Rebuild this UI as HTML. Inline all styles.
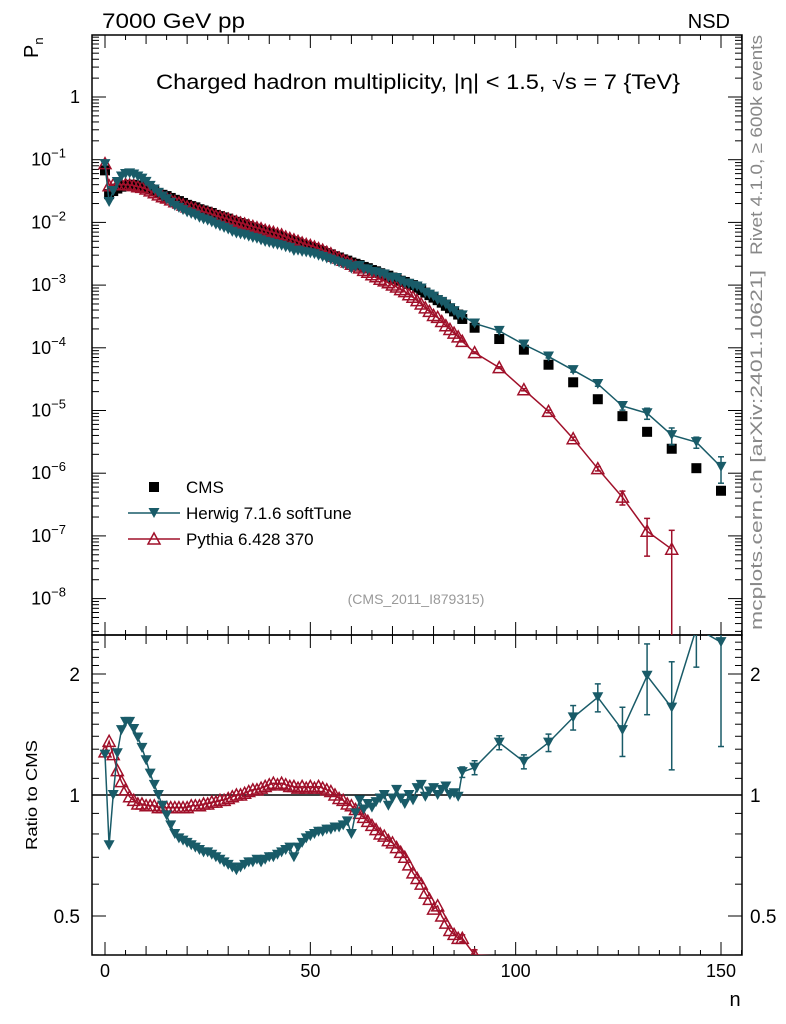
<!DOCTYPE html>
<html><head><meta charset="utf-8">
<style>
html,body{margin:0;padding:0;background:#fff;overflow:hidden;}
svg{display:block;font-family:"Liberation Sans",sans-serif;}
</style></head>
<body>
<svg id="chart" width="786" height="1024" viewBox="0 0 786 1024" xmlns="http://www.w3.org/2000/svg">
<defs>
<clipPath id="clipMain"><rect x="92" y="35" width="650" height="600"/></clipPath>
<clipPath id="clipRatio"><rect x="92" y="635" width="650" height="320"/></clipPath>
</defs>
<text x="102" y="28" font-size="21" textLength="143" lengthAdjust="spacingAndGlyphs">7000 GeV pp</text>
<text x="730" y="28" font-size="20" text-anchor="end">NSD</text>
<text x="156" y="89" font-size="21" textLength="524" lengthAdjust="spacingAndGlyphs">Charged hadron multiplicity, |η| &lt; 1.5, √s = 7 {TeV}</text>
<text transform="translate(38,58) rotate(-90)" font-size="20">P<tspan font-size="13" dy="5">n</tspan></text>
<text transform="translate(37,850) rotate(-90)" font-size="16" textLength="110" lengthAdjust="spacingAndGlyphs">Ratio to CMS</text>
<text x="735" y="1006" font-size="20" text-anchor="middle">n</text>
<text transform="translate(762,255) rotate(-90)" font-size="17" fill="#888" textLength="220" lengthAdjust="spacingAndGlyphs">Rivet 4.1.0, ≥ 600k events</text>
<text transform="translate(762,630) rotate(-90)" font-size="17" fill="#888" textLength="360" lengthAdjust="spacingAndGlyphs">mcplots.cern.ch [arXiv:2401.10621]</text>
<text x="416" y="604" font-size="14" fill="#999" text-anchor="middle">(CMS_2011_I879315)</text>
<g id="axes"></g>
<g id="mainMarks" clip-path="url(#clipMain)"></g>
<g id="ratioMarks" clip-path="url(#clipRatio)"></g>
<g id="legend"></g>
</svg>
<script>
// ---- data ----
const nValues = [0,1,2,3,4,5,6,7,8,9,10,11,12,13,14,15,16,17,18,19,20,21,22,23,24,25,26,27,28,29,30,31,32,33,34,35,36,37,38,39,40,41,42,43,44,45,46,47,48,49,50,51,52,53,54,55,56,57,58,59,60,61,62,63,64,65,66,67,68,69,70,71,72,73,74,75,76,77,78,79,80,81,82,83,84,85,86,87,90,96,102,108,114,120,126,132,138,144,150];
const cmsLog10 = [-1.17,-1.55,-1.50,-1.46,-1.43,-1.41,-1.40,-1.40,-1.41,-1.42,-1.44,-1.47,-1.50,-1.53,-1.56,-1.58,-1.61,-1.64,-1.66,-1.69,-1.72,-1.74,-1.76,-1.79,-1.81,-1.83,-1.85,-1.88,-1.90,-1.92,-1.94,-1.97,-1.99,-2.01,-2.03,-2.06,-2.08,-2.10,-2.12,-2.15,-2.17,-2.19,-2.21,-2.23,-2.26,-2.28,-2.30,-2.32,-2.35,-2.37,-2.39,-2.41,-2.44,-2.46,-2.49,-2.51,-2.54,-2.56,-2.59,-2.61,-2.64,-2.66,-2.68,-2.71,-2.73,-2.76,-2.78,-2.81,-2.83,-2.85,-2.88,-2.90,-2.93,-2.95,-2.98,-3.00,-3.04,-3.08,-3.12,-3.16,-3.20,-3.24,-3.28,-3.33,-3.37,-3.42,-3.47,-3.54,-3.68,-3.86,-4.03,-4.27,-4.55,-4.82,-5.09,-5.34,-5.61,-5.92,-6.28];
const herwigRatio = [1.26,0.75,1.0,1.27,1.45,1.52,1.52,1.46,1.39,1.31,1.22,1.13,1.06,1.0,0.94,0.89,0.84,0.80,0.78,0.77,0.76,0.75,0.74,0.73,0.72,0.72,0.71,0.70,0.69,0.68,0.67,0.66,0.65,0.66,0.67,0.68,0.68,0.69,0.68,0.69,0.70,0.70,0.71,0.72,0.73,0.74,0.70,0.74,0.76,0.78,0.79,0.80,0.81,0.81,0.82,0.82,0.83,0.83,0.84,0.86,0.80,0.90,0.97,0.92,0.95,0.93,0.96,0.98,1.00,0.94,0.98,1.03,0.98,0.95,1.00,0.97,1.04,1.06,0.99,1.02,1.04,1.00,1.03,1.05,1.00,1.01,0.99,1.14,1.17,1.35,1.21,1.35,1.56,1.75,1.45,1.98,1.65,2.6,2.4];
const pythiaRatio = [1.28,1.36,1.26,1.15,1.08,1.03,0.99,0.97,0.95,0.95,0.94,0.94,0.94,0.93,0.93,0.93,0.93,0.93,0.93,0.93,0.93,0.94,0.94,0.94,0.95,0.95,0.96,0.96,0.97,0.97,0.98,0.99,1.00,1.00,1.01,1.02,1.03,1.03,1.04,1.05,1.06,1.07,1.06,1.07,1.06,1.05,1.05,1.04,1.05,1.04,1.05,1.04,1.05,1.04,1.03,1.02,1.00,0.98,0.97,0.95,0.94,0.92,0.90,0.88,0.86,0.84,0.82,0.80,0.79,0.77,0.76,0.74,0.72,0.70,0.67,0.64,0.62,0.60,0.57,0.55,0.52,0.53,0.50,0.48,0.46,0.45,0.44,0.44,0.40,0.35,0.23,0.18,0.126,0.078,0.051,0.026,0.025,null,null];
// fractional errors for last 12 points (n=87..150)
const herwigErrTail = [0.03,0.04,0.04,0.04,0.05,0.07,0.08,0.14,0.2,0.3,0.2,0.45];
const pythiaErrTail = [0.02,0.03,0.03,0.04,0.05,0.06,0.08,0.25,0.6,1.0,0,0];
const yMainTicks = [0,-1,-2,-3,-4,-5,-6,-7,-8];
const xTickLabels = [0,50,100,150];
const ratioTickLabels = [0.5,1,2];

// ---- scales ----
const X = n => 105 + n*4.1067;
const YM = v => 97 - 62.7*Math.log10(v);
const YR = r => 795 - 121*Math.log2(r);
const NS = 'http://www.w3.org/2000/svg';
const HC = '#195b68', PC = '#a0102a';
function mk(tag, attrs, parent){const e=document.createElementNS(NS,tag);for(const k in attrs)e.setAttribute(k,attrs[k]);parent.appendChild(e);return e;}
const axes=document.getElementById('axes'), mm=document.getElementById('mainMarks'), rm=document.getElementById('ratioMarks'), lg=document.getElementById('legend');

const f1=mk('rect',{x:92,y:35,width:650,height:600,fill:'none',stroke:'#000','stroke-width':1.5},axes);


const f2=mk('rect',{x:92,y:635,width:650,height:320,fill:'none',stroke:'#000','stroke-width':1.5},axes);



for(let n=0;n<=155;n+=5){
  const len = n%50===0?13:(n%10===0?9:5);
  const x=X(n);
  [[35,1],[635,-1],[635,1],[955,-1]].forEach(([y,d])=>{
    mk('line',{x1:x,x2:x,y1:y,y2:y+d*len,stroke:'#000','stroke-width':1},axes);
  });
}
xTickLabels.forEach(v=>{
  const t=mk('text',{x:X(v),y:977,'font-size':18,'text-anchor':'middle'},axes);
  t.textContent=v;
  
  
});
for(let d=-9;d<=1;d++){
  for(let m=1;m<=9;m++){
    const v=m*Math.pow(10,d); const y=YM(v);
    if(y<35||y>635) continue;
    const len=m===1?14:7;
    mk('line',{x1:92,x2:92+len,y1:y,y2:y,stroke:'#000','stroke-width':1},axes);
    mk('line',{x1:742,x2:742-len,y1:y,y2:y,stroke:'#000','stroke-width':1},axes);
  }
}
yMainTicks.forEach(e=>{
  const y=YM(Math.pow(10,e));
  const t=mk('text',{x:80,y:y+6,'font-size':18,'text-anchor':'end'},axes);
  
  
  if(e===0){t.textContent='1';}
  else{t.setAttribute('x',66);t.textContent='10';const s=mk('tspan',{'font-size':13,dy:-8},t);s.textContent='−'+(-e);}
});
for(let r=0.4;r<=2.55;r+=0.1){
  const rr=Math.round(r*10)/10;const y=YR(rr);
  if(y<635||y>955) continue;
  const len=(rr===1||rr===2||rr===0.5)?14:7;
  mk('line',{x1:92,x2:92+len,y1:y,y2:y,stroke:'#000','stroke-width':1},axes);
  mk('line',{x1:742,x2:742-len,y1:y,y2:y,stroke:'#000','stroke-width':1},axes);
}
ratioTickLabels.forEach(r=>{
  const y=YR(r);
  const t=mk('text',{x:80,y:y+7,'font-size':19,'text-anchor':'end'},axes);t.textContent=r;
  
  
  const t2=mk('text',{x:750,y:y+7,'font-size':19},axes);t2.textContent=r;
  
  
});
const one=mk('line',{x1:92,x2:742,y1:YR(1),y2:YR(1),stroke:'#000','stroke-width':1.5},axes);



function square(g,x,y){return mk('rect',{x:x-5,y:y-5,width:10,height:10,fill:'#000'},g);}
function down(g,x,y){return mk('polygon',{points:`${x-5.5},${y-5} ${x+5.5},${y-5} ${x},${y+5}`,fill:HC},g);}
function up(g,x,y){return mk('polygon',{points:`${x-6},${y+5} ${x+6},${y+5} ${x},${y-6}`,fill:'none',stroke:PC,'stroke-width':1.5},g);}
const tail0 = nValues.length-12;

const cms = cmsLog10.map(l=>Math.pow(10,l));
const herwig = cms.map((c,i)=>c*herwigRatio[i]);
const pythia = cms.map((c,i)=>pythiaRatio[i]==null?null:c*pythiaRatio[i]);
function series(g, vals, yf, color, marker, errTail, name, ybot){
  let d='';
  vals.forEach((v,i)=>{ if(v==null) return; d+=(d?'L':'M')+X(nValues[i]).toFixed(1)+','+Math.min(yf(v),ybot).toFixed(1); });
  const p=mk('path',{d:d,fill:'none',stroke:color,'stroke-width':1.5},g);
  
  
  vals.forEach((v,i)=>{
    if(v==null) return;
    const x=X(nValues[i]), y=yf(v);
    if(y>ybot+10) return;
    if(errTail && i>=tail0){const e=errTail[i-tail0]; if(e>0){
      const y1=yf(v*(1+e)), y2=e>=1?ybot:Math.min(ybot,yf(v*(1-e)));
      mk('line',{x1:x,x2:x,y1:y1,y2:y2,stroke:color,'stroke-width':1.5},g);
      mk('line',{x1:x-3,x2:x+3,y1:y1,y2:y1,stroke:color,'stroke-width':1.5},g);
      if(e<1) mk('line',{x1:x-3,x2:x+3,y1:y2,y2:y2,stroke:color,'stroke-width':1.5},g);
    }}
    const m=marker(g,x,y);
    
    
  });
}
cms.forEach((v,i)=>{const s=square(mm,X(nValues[i]),YM(v));
  
  });
series(mm, pythia, YM, PC, up, pythiaErrTail, 'pythia', 636);
series(mm, herwig, YM, HC, down, herwigErrTail, 'herwig', 636);
series(rm, pythiaRatio, YR, PC, up, pythiaErrTail, 'pythia-ratio', 956);
series(rm, herwigRatio, YR, HC, down, herwigErrTail, 'herwig-ratio', 956);

const L=[['CMS',487],['Herwig 7.1.6 softTune',513],['Pythia 6.428 370',539]];
const sq=square(lg,154,487);


mk('line',{x1:128,x2:180,y1:513,y2:513,stroke:HC,'stroke-width':1.5},lg);
const dm=down(lg,154,513);


mk('line',{x1:128,x2:180,y1:539,y2:539,stroke:PC,'stroke-width':1.5},lg);
const um=up(lg,154,539);


L.forEach(([s,y])=>{const t=mk('text',{x:186,y:y+6,'font-size':17},lg);t.textContent=s;
  
  });
</script>
</body></html>
